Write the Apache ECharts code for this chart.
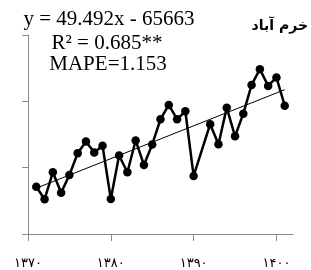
<!DOCTYPE html>
<html>
<head>
<meta charset="utf-8">
<script src="https://cdn.jsdelivr.net/npm/echarts@6/dist/echarts.min.js"></script>
<style>html,body{margin:0;padding:0;background:#fff}#c{width:311px;height:270px}</style>
</head>
<body>
<div id="c"></div>
<script>
const years = [1371,1372,1373,1374,1375,1376,1377,1378,1379,1380,1381,1382,1383,1384,1385,1386,1387,1388,1389,1390,1392,1393,1394,1395,1396,1397,1398,1399,1400,1401];
const values = [2213,2023,2430,2123,2390,2717,2895,2729,2830,2028,2684,2430,2910,2540,2850,3230,3445,3230,3350,2375,3156,2853,3405,2973,3314,3747,3985,3732,3860,3435];
const xTicks = [1370,1380,1390,1400];
const xTickLabels = ['۱۳۷۰','۱۳۸۰','۱۳۹۰','۱۴۰۰'];
const slope = 49.492, intercept = -65663;
const trendYears = [1371, 1401];
const title = 'خرم آباد';
const eqLines = ['y = 49.492x - 65663', 'R² = 0.685**', 'MAPE=1.153'];

const data = years.map((y, i) => [y, values[i]]);
const trend = trendYears.map(y => [y, slope * y + intercept]);
const axisColor = '#8c8c8c';

const chart = echarts.init(document.getElementById('c'), null, {renderer: 'canvas'});
chart.setOption({
  animation: false,
  grid: {left: 28, right: 18, top: 35, bottom: 36, containLabel: false},
  xAxis: {
    type: 'value', min: 1370, max: 1402,
    axisLine: {show: true, lineStyle: {color: axisColor, width: 1}},
    axisTick: {show: true, customValues: xTicks, length: 7, inside: false, lineStyle: {color: axisColor}},
    axisLabel: {show: true, customValues: xTicks, margin: 23, fontSize: 13, color: '#000', fontFamily: 'DejaVu Sans',
      formatter: v => xTickLabels[xTicks.indexOf(v)] || ''},
    splitLine: {show: false}
  },
  yAxis: {
    type: 'value', min: 1500, max: 4500, interval: 1000,
    axisLine: {show: true, lineStyle: {color: axisColor, width: 1}},
    axisTick: {show: true, length: 6, lineStyle: {color: axisColor}},
    axisLabel: {show: false},
    splitLine: {show: false}
  },
  graphic: [
    {type: 'text', x: 109, y: 19, style: {text: eqLines[0], font: '21px "Liberation Serif"', fill: '#000', textAlign: 'center', textVerticalAlign: 'middle'}},
    {type: 'text', x: 107, y: 43, style: {text: eqLines[1], font: '21px "Liberation Serif"', fill: '#000', textAlign: 'center', textVerticalAlign: 'middle'}},
    {type: 'text', x: 108, y: 64.5, style: {text: eqLines[2], font: '21px "Liberation Serif"', fill: '#000', textAlign: 'center', textVerticalAlign: 'middle'}},
    {type: 'text', x: 308, y: 26, style: {text: title, font: 'bold 14px "DejaVu Sans"', fill: '#000', textAlign: 'right', textVerticalAlign: 'middle'}}
  ],
  series: [
    {type: 'line', data: data, symbol: 'circle', symbolSize: 8.5, showSymbol: true,
      lineStyle: {color: '#000', width: 2.5}, itemStyle: {color: '#000'}, z: 3},
    {type: 'line', data: trend, symbol: 'none', lineStyle: {color: '#000', width: 1}, z: 2}
  ]
});
</script>
</body>
</html>
